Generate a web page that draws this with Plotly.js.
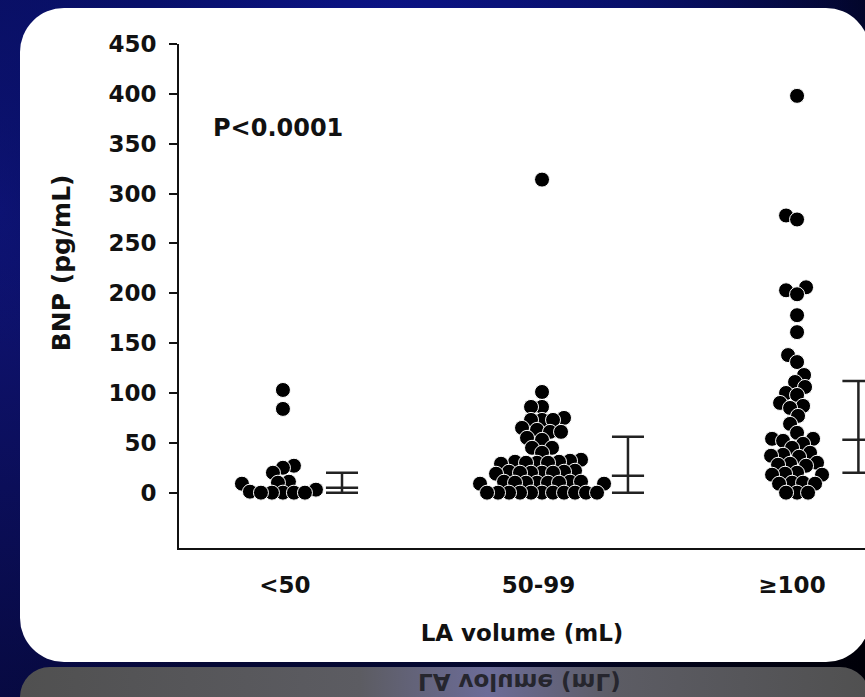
<!DOCTYPE html>
<html><head><meta charset="utf-8">
<script src="https://cdn.plot.ly/plotly-3.0.1.min.js"></script>
<style>
html,body{margin:0;padding:0;width:865px;height:697px;overflow:hidden;}
body{position:relative;background:
 radial-gradient(ellipse 70% 60% at 45% 5%, #0c1488 0%, #08106a 40%, rgba(4,8,50,0) 100%),
 radial-gradient(ellipse 40% 80% at 0% 30%, #101478 0%, rgba(10,12,80,0) 100%),
 linear-gradient(to right, #06083a 0%, #040830 50%, #000008 100%);}
#panel{position:absolute;left:20px;top:8px;width:850px;height:654px;background:#fff;border-radius:44px;}
#refl{position:absolute;left:20px;top:667px;width:850px;height:30px;border-radius:44px 44px 0 0;
 background:linear-gradient(to right,#505050 0%,#5c5c62 40%,#6c6c98 55%,#5c5c64 70%,#505050 100%);overflow:hidden;}
#refl span{position:absolute;left:398px;top:1px;line-height:27px;font-family:'DejaVu Sans';font-weight:bold;font-size:23px;color:#26262e;transform:scaleY(-1);white-space:nowrap;}
#chart{position:absolute;left:0;top:0;width:865px;height:697px;}
</style></head>
<body>
<div id="panel"></div>
<div id="refl"><span>LA volume (mL)</span></div>
<div id="chart"></div>
<script>
// ---- data ----
const categories = ['&lt;50', '50-99', '≥100'];
const bnpLt50 = [103, 84, 27, 25, 20, 11, 10, 9, 3, 1, 0, 0, 0, 0, 0];
const bnp50to99 = [314, 101, 86, 86, 75, 73, 73, 73, 65, 63, 61, 61, 55, 53, 45, 45, 40,
  33, 32, 31, 31, 30, 30, 30, 29,
  22, 21, 21, 20, 20, 20, 20, 19,
  11, 11, 11, 10, 10, 10, 10, 10, 9, 9,
  0, 0, 0, 0, 0, 0, 0, 0, 0, 0, 0];
const bnpGe100 = [398, 278, 274, 206, 203, 199, 178, 161, 138, 131, 118, 111, 106, 100, 98, 90, 87, 85, 77, 69,
  60, 54, 54, 52, 49, 45,
  40, 38, 37, 36,
  30, 29, 28, 27,
  20, 19, 18, 18,
  10, 10, 9, 9,
  0, 0, 0];
const medians = [5, 17, 53];
const q1 = [0, 0, 20];
const q3 = [20, 56, 112];
const yTicks = [0, 50, 100, 150, 200, 250, 300, 350, 400, 450];

// ---- layout constants ----
const W = 865, H = 697, ML = 179, MR = 0, MT = 44, MB = 149;
const xRange = [-0.418, 2.288], yRange = [-55.5, 450];
const pxX = (W - ML - MR) / (xRange[1] - xRange[0]);
const pxY = (H - MT - MB) / (yRange[1] - yRange[0]);
const errPos = [0.225, 1.353, 2.262]; // summary bar positions (category units)
const swarmShift = [-0.008, 0.014, 0.02];

function swarm(vals, center, D) {
  const order = vals.map((v, i) => i).sort((a, b) => vals[a] - vals[b]);
  const placed = [];
  const xs = new Array(vals.length);
  for (const i of order) {
    const y = vals[i] * pxY;
    let best = 0;
    for (let k = 0; k < 600; k++) {
      const off = (k % 2 === 0 ? 1 : -1) * Math.ceil(k / 2);
      let ok = true;
      for (const p of placed) {
        const dx = off - p.x, dy = y - p.y;
        if (dx * dx + dy * dy < D * D) { ok = false; break; }
      }
      if (ok) { best = off; break; }
    }
    placed.push({ x: best, y: y });
    xs[i] = center + best / pxX;
  }
  return xs;
}

const groups = [bnpLt50, bnp50to99, bnpGe100];
const traces = groups.map((g, gi) => ({
  type: 'scatter', mode: 'markers',
  x: swarm(g, gi + swarmShift[gi], 11), y: g,
  marker: { size: 15, color: '#000', line: { color: '#fff', width: 1 } },
  hoverinfo: 'y', cliponaxis: false
}));

traces.push({
  type: 'scatter', mode: 'markers',
  x: errPos,
  y: medians,
  marker: { symbol: 'line-ew', size: 23, color: '#222', line: { width: 2.5, color: '#222' } },
  error_y: { type: 'data', symmetric: false,
    array: q3.map((v, i) => v - medians[i]),
    arrayminus: q1.map((v, i) => medians[i] - v),
    width: 16, thickness: 2.5, color: '#222' },
  hoverinfo: 'y'
});

const fontFam = 'DejaVu Sans';
const layout = {
  width: W, height: H,
  margin: { l: ML, r: MR, t: MT, b: MB, pad: 0 },
  paper_bgcolor: 'rgba(0,0,0,0)', plot_bgcolor: 'rgba(0,0,0,0)',
  showlegend: false,
  font: { family: fontFam, color: '#111' },
  xaxis: {
    range: xRange, tickmode: 'array', tickvals: [0, 1, 2], ticktext: categories,
    showline: true, linecolor: '#111', linewidth: 2, ticks: '', showgrid: false, zeroline: false,
    tickfont: { family: fontFam, size: 23, weight: 'bold', color: '#111' },
    ticklabelstandoff: 15,
    title: { text: 'LA volume (mL)', font: { family: fontFam, size: 23, weight: 'bold', color: '#111' }, standoff: 28 }
  },
  yaxis: {
    range: yRange, tickmode: 'array', tickvals: yTicks,
    showline: true, linecolor: '#111', linewidth: 2, ticks: 'outside', ticklen: 8, tickwidth: 2, tickcolor: '#111',
    showgrid: false, zeroline: false,
    tickfont: { family: fontFam, size: 23, weight: 'bold', color: '#111' },
    ticklabelstandoff: 8
  },
  annotations: [{
    text: 'P&lt;0.0001', xref: 'paper', yref: 'paper', x: 0.047, y: 0.833,
    xanchor: 'left', yanchor: 'middle', showarrow: false,
    font: { family: fontFam, size: 24, weight: 'bold', color: '#111' }
  }, {
    text: 'BNP (pg/mL)', xref: 'paper', yref: 'paper', x: -0.172, y: 0.565,
    xanchor: 'center', yanchor: 'middle', textangle: -90, showarrow: false,
    font: { family: fontFam, size: 25, weight: 'bold', color: '#111' }
  }]
};
Plotly.newPlot('chart', traces, layout, { displayModeBar: false, staticPlot: true });
</script>
</body></html>
